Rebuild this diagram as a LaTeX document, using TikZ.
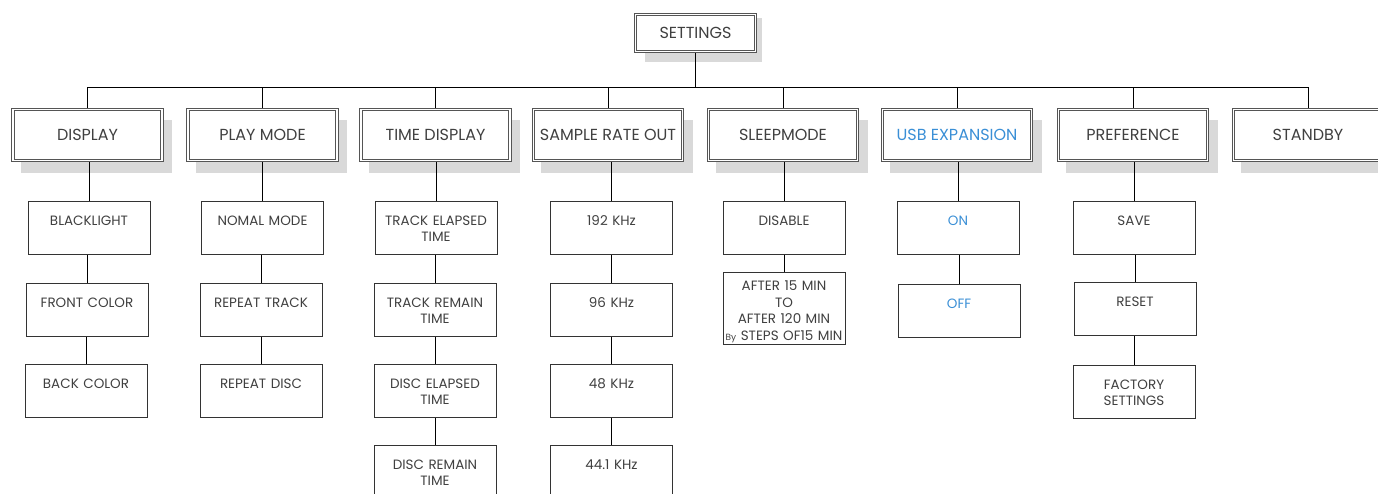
\documentclass[tikz,border=0pt]{standalone}
\usepackage{fontspec}
\setmainfont{Poppins}
\usetikzlibrary{calc,backgrounds}
\definecolor{txt}{HTML}{404040}
\definecolor{usb}{HTML}{3A8FD6}
\definecolor{shade}{HTML}{D9D9D9}
\definecolor{frame}{HTML}{555555}
\begin{document}
\begin{tikzpicture}[x=1pt,y=-1pt,
  mainbox/.style={draw=frame, double=white, double distance=1.4pt, line width=0.9pt, fill=white,
    minimum width=149pt, minimum height=51pt, inner sep=0pt, font=\fontsize{16}{19}\selectfont, text=txt},
  topbox/.style={mainbox, minimum width=120pt, minimum height=37pt},
  subbox/.style={draw=black!80, line width=1pt, fill=white, text width=122pt, align=center,
    inner sep=0pt, text height=24pt, text depth=29pt, font=\fontsize{13.5}{16}\selectfont, text=txt, anchor=north},
  tallbox/.style={subbox, text height=18pt, text depth=54pt, font=\fontsize{13.5}{16.5}\selectfont},
  link/.style={draw=black, line width=1pt},
  shadowfill/.style={fill=shade, draw=none}]
\useasboundingbox (0,0) rectangle (1378,493);

% top
\node[topbox] (S) at (695.5,33) {SETTINGS};
\coordinate (bus) at (0,87);

% main row
\node[mainbox] (m1) at (87.5,135) {DISPLAY};
\node[mainbox] (m2) at (262.5,135) {PLAY MODE};
\node[mainbox] (m3) at (435.5,135) {TIME DISPLAY};
\node[mainbox] (m4) at (608,135) {SAMPLE RATE OUT};
\node[mainbox] (m5) at (783,135) {SLEEPMODE};
\node[mainbox, text=usb] (m6) at (957,135) {USB EXPANSION};
\node[mainbox] (m7) at (1133,135) {PREFERENCE};
\node[mainbox] (m8) at (1308,135) {STANDBY};

% children
\node[subbox] (c11) at (89,201) {BLACKLIGHT};
\node[subbox] (c12) at (87,283) {FRONT COLOR};
\node[subbox] (c13) at (86,364) {BACK COLOR};

\node[subbox] (c21) at (262.5,201) {NOMAL MODE};
\node[subbox] (c22) at (261,283) {REPEAT TRACK};
\node[subbox] (c23) at (261,364) {REPEAT DISC};

\node[subbox] (c31) at (436,201) {TRACK ELAPSED\\TIME};
\node[subbox] (c32) at (435,283) {TRACK REMAIN\\TIME};
\node[subbox] (c33) at (435,364) {DISC ELAPSED\\TIME};
\node[subbox] (c34) at (435,445) {DISC REMAIN\\TIME};

\node[subbox] (c41) at (611.5,201) {192 KHz};
\node[subbox] (c42) at (611.5,283) {96 KHz};
\node[subbox] (c43) at (611.5,364) {48 KHz};
\node[subbox] (c44) at (611.5,445) {44.1 KHz};

\node[subbox] (c51) at (784,201) {DISABLE};
\node[tallbox] (c52) at (784,272) {AFTER 15 MIN\\TO\\AFTER 120 MIN\\{\fontsize{9}{16}\selectfont By} STEPS OF15 MIN};

\node[subbox, text=usb] (c61) at (958,201) {ON};
\node[subbox, text=usb] (c62) at (959,284) {OFF};

\node[subbox] (c71) at (1134,201) {SAVE};
\node[subbox] (c72) at (1135,282) {RESET};
\node[subbox] (c73) at (1134,365) {FACTORY\\SETTINGS};

\begin{scope}[on background layer]
  % shadows
  \fill[shadowfill] ($(S.north west)+(10,4)$) rectangle ($(S.south east)+(6,10)$);
  \foreach \m in {m1,m2,m3,m4,m5,m6,m7,m8}{
    \fill[shadowfill] ($(\m.north west)+(8,11)$) rectangle ($(\m.south east)+(10,12)$);
  }
  % bus
  \draw[link] (S.south) -- (S.south |- bus);
  \draw[link] (m1.north |- bus) -- (m8.north |- bus);
  \foreach \m in {m1,m2,m3,m4,m5,m6,m7,m8}{
    \draw[link] (\m.north) -- (\m.north |- bus);
  }
  % columns
  \draw[link] (c11.north) -- (c11.north |- m1.south);
  \draw[link] (c12.north) -- (c12.north |- c11.south);
  \draw[link] (c13.north) -- (c13.north |- c12.south);
  \draw[link] (c21.north) -- (c21.north |- m2.south);
  \draw[link] (c22.north) -- (c22.north |- c21.south);
  \draw[link] (c23.north) -- (c23.north |- c22.south);
  \draw[link] (c31.north) -- (c31.north |- m3.south);
  \draw[link] (c32.north) -- (c32.north |- c31.south);
  \draw[link] (c33.north) -- (c33.north |- c32.south);
  \draw[link] (c34.north) -- (c34.north |- c33.south);
  \draw[link] (c41.north) -- (c41.north |- m4.south);
  \draw[link] (c42.north) -- (c42.north |- c41.south);
  \draw[link] (c43.north) -- (c43.north |- c42.south);
  \draw[link] (c44.north) -- (c44.north |- c43.south);
  \draw[link] (c51.north) -- (c51.north |- m5.south);
  \draw[link] (c52.north) -- (c52.north |- c51.south);
  \draw[link] (c61.north) -- (c61.north |- m6.south);
  \draw[link] (c62.north) -- (c62.north |- c61.south);
  \draw[link] (c71.north) -- (c71.north |- m7.south);
  \draw[link] (c72.north) -- (c72.north |- c71.south);
  \draw[link] (c73.north) -- (c73.north |- c72.south);
\end{scope}
\end{tikzpicture}
\end{document}
